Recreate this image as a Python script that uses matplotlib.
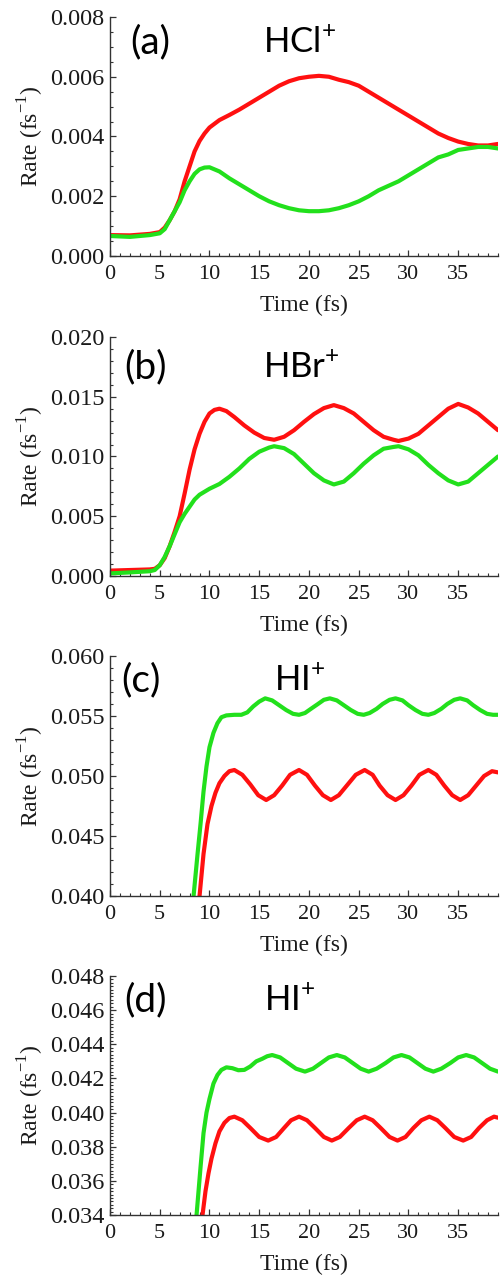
"""Ionization rate vs time for HCl+, HBr+ and HI+ (four stacked panels)."""

import matplotlib

matplotlib.use("Agg")

import matplotlib.pyplot as plt
from matplotlib.ticker import MultipleLocator, FormatStrFormatter

RED = "#ff1010"
GREEN = "#22e01c"

# ---- panel (a) HCl+ ----
a_red_t = [0, 2, 4, 5, 5.5, 6, 6.5, 7, 7.5, 8, 8.5, 9, 9.5, 10, 11, 12, 13, 14, 15, 16, 17, 18, 19,
           20, 21, 22, 23, 24, 25, 26, 27, 28, 29, 30, 31, 32, 33, 34, 35, 36, 37, 38, 39]
a_red_v = [0.0007, 0.00069, 0.00074, 0.0008, 0.00095, 0.0012, 0.0015, 0.0019, 0.0025, 0.003, 0.0035,
           0.00385, 0.0041, 0.0043, 0.00455, 0.00472, 0.0049, 0.0051, 0.0053, 0.0055, 0.0057, 0.00585,
           0.00595, 0.006, 0.00603, 0.006, 0.0059, 0.00582, 0.0057, 0.0055, 0.0053, 0.0051, 0.0049,
           0.0047, 0.0045, 0.0043, 0.0041, 0.00395, 0.00383, 0.00375, 0.0037, 0.0037, 0.00375]
a_green_t = [0, 2, 4, 5, 5.5, 6, 6.5, 7, 7.5, 8, 8.5, 9, 9.5, 10, 10.5, 11, 12, 13, 14, 15, 16, 17,
             18, 19, 20, 21, 22, 23, 24, 25, 26, 27, 28, 29, 30, 31, 32, 33, 34, 35, 36, 37, 38, 39]
a_green_v = [0.00067, 0.00064, 0.0007, 0.00076, 0.0009, 0.0012, 0.0015, 0.0018, 0.0022, 0.0025,
             0.00275, 0.0029, 0.00296, 0.00297, 0.0029, 0.00283, 0.0026, 0.0024, 0.0022, 0.002,
             0.00183, 0.0017, 0.0016, 0.00153, 0.0015, 0.0015, 0.00153, 0.0016, 0.0017, 0.00183,
             0.002, 0.0022, 0.00235, 0.0025, 0.0027, 0.0029, 0.0031, 0.0033, 0.0034, 0.00355,
             0.0036, 0.00365, 0.00365, 0.0036]

# ---- panel (b) HBr+ ----
b_red_t = [0, 2, 4, 4.5, 5, 5.5, 6, 6.5, 7, 7.5, 8, 8.5, 9, 9.5, 10, 10.5, 11, 11.7, 12.5, 13.5,
           14.5, 15.5, 16.5, 17.5, 18.5, 19.5, 20.5, 21.5, 22.5, 23.5, 24.5, 25.5, 26.5, 27.5,
           28.5, 29, 30, 31, 32, 33, 34, 35, 36, 37, 38, 39]
b_red_v = [0.00045, 0.0005, 0.00055, 0.0006, 0.0009, 0.0015, 0.0025, 0.0037, 0.005, 0.0069, 0.0089,
           0.0106, 0.0119, 0.0129, 0.0136, 0.0139, 0.014, 0.0138, 0.0133, 0.0126, 0.012, 0.01155,
           0.0114, 0.01165, 0.0122, 0.0129, 0.01355, 0.01405, 0.0143, 0.01405, 0.0136, 0.0129,
           0.0122, 0.01165, 0.0114, 0.0113, 0.0115, 0.0119, 0.0126, 0.0133, 0.014, 0.0144,
           0.0141, 0.0136, 0.0129, 0.0122]
b_green_t = [0, 2, 4, 4.5, 5, 5.5, 6, 6.5, 7, 7.5, 8, 8.5, 9, 10, 11, 12, 13, 14, 15, 16, 16.5,
             17.5, 18.5, 19.5, 20.5, 21.5, 22.5, 23.5, 24.5, 25.5, 26.5, 27.5, 28.5, 29, 30, 31,
             32, 33, 34, 35, 36, 37, 38, 39]
b_green_v = [0.00022, 0.0003, 0.0004, 0.0005, 0.0009, 0.0016, 0.0025, 0.0035, 0.0045, 0.0052,
             0.0058, 0.0064, 0.0068, 0.0073, 0.0077, 0.0083, 0.009, 0.0098, 0.0104, 0.01075,
             0.01086, 0.0107, 0.0102, 0.0094, 0.0086, 0.008, 0.00766, 0.0079, 0.0086, 0.0094,
             0.0101, 0.01065, 0.0108, 0.01086, 0.0106, 0.0101, 0.0093, 0.0086, 0.008, 0.00766,
             0.0079, 0.0086, 0.0093, 0.01]

# ---- panel (c) HI+ ----
c_green_t = [8.0, 8.4, 8.8, 9.1, 9.4, 9.7, 10.0, 10.4, 10.8, 11.2, 11.7, 12.5, 13.2, 13.8, 14.4,
             15.0, 15.6, 16.3, 17.0, 17.7, 18.4, 19.0, 19.6, 20.2, 20.9, 21.5, 22.1, 22.8, 23.5,
             24.2, 24.9, 25.5, 26.1, 26.8, 27.4, 28.1, 28.7, 29.4, 30.0, 30.7, 31.4, 32.0, 32.6,
             33.3, 33.9, 34.6, 35.2, 35.9, 36.5, 37.2, 37.9, 38.5, 39.0]
c_green_v = [0.037, 0.040, 0.0435, 0.046, 0.0487, 0.0508, 0.0524, 0.0536, 0.0544, 0.0549, 0.05505,
             0.0551, 0.0551, 0.0553, 0.0558, 0.0562, 0.05647, 0.0563, 0.0559, 0.0555, 0.05518,
             0.0551, 0.05525, 0.0556, 0.056, 0.05635, 0.05647, 0.0563, 0.0559, 0.0555, 0.05518,
             0.0551, 0.05525, 0.0556, 0.056, 0.05635, 0.05647, 0.0563, 0.0559, 0.0555, 0.05518,
             0.0551, 0.05525, 0.0556, 0.056, 0.05635, 0.05647, 0.0563, 0.0559, 0.0555, 0.05518,
             0.0551, 0.0551]
c_red_t = [8.6, 9.0, 9.4, 9.8, 10.2, 10.6, 11.0, 11.5, 12.0, 12.5, 13.3, 14.1, 14.9, 15.7, 16.5,
           17.3, 18.1, 19.0, 19.8, 20.6, 21.4, 22.2, 23.0, 23.9, 24.7, 25.6, 26.4, 27.1, 27.9,
           28.7, 29.5, 30.3, 31.1, 32.0, 32.8, 33.6, 34.4, 35.2, 36.0, 36.8, 37.6, 38.4, 39.0]
c_red_v = [0.037, 0.040, 0.0435, 0.046, 0.0475, 0.0486, 0.0494, 0.05, 0.0504, 0.0505, 0.0501,
           0.0493, 0.0484, 0.048, 0.0484, 0.0492, 0.0501, 0.0505, 0.0501, 0.0492, 0.0484, 0.048,
           0.0484, 0.0493, 0.0501, 0.0505, 0.0501, 0.0492, 0.0484, 0.048, 0.0484, 0.0492, 0.0501,
           0.0505, 0.0501, 0.0492, 0.0484, 0.048, 0.0484, 0.0492, 0.05, 0.0504, 0.0503]

# ---- panel (d) HI+ ----
d_green_t = [8.3, 8.7, 9.1, 9.4, 9.7, 10.0, 10.4, 10.8, 11.2, 11.7, 12.3, 12.9, 13.5, 14.1, 14.7,
             15.3, 15.8, 16.3, 17.1, 17.9, 18.7, 19.6, 20.4, 21.2, 22.0, 22.8, 23.6, 24.4, 25.2,
             26.0, 26.8, 27.7, 28.5, 29.3, 30.1, 30.9, 31.7, 32.5, 33.3, 34.2, 35.0, 35.8, 36.6,
             37.4, 38.2, 39.0]
d_green_v = [0.031, 0.034, 0.0368, 0.0388, 0.04, 0.0408, 0.0417, 0.0422, 0.0425, 0.04265, 0.0426,
             0.04248, 0.0425, 0.0427, 0.043, 0.04315, 0.0433, 0.04337, 0.04323, 0.0429, 0.04257,
             0.0424, 0.04257, 0.0429, 0.04323, 0.04337, 0.04323, 0.0429, 0.04257, 0.0424, 0.04257,
             0.0429, 0.04323, 0.04337, 0.04323, 0.0429, 0.04257, 0.0424, 0.04257, 0.0429,
             0.04323, 0.04337, 0.04323, 0.0429, 0.04257, 0.0424]
d_red_t = [8.9, 9.3, 9.6, 9.9, 10.2, 10.6, 11.0, 11.5, 12.0, 12.5, 13.3, 14.1, 15.0, 15.9, 16.7,
           17.5, 18.2, 19.0, 19.8, 20.6, 21.5, 22.3, 23.1, 24.0, 24.8, 25.6, 26.4, 27.2, 28.1,
           28.9, 29.7, 30.5, 31.3, 32.1, 32.9, 33.7, 34.6, 35.5, 36.3, 37.1, 37.9, 38.6, 39.0]
d_red_v = [0.031, 0.034, 0.0354, 0.03644, 0.0373, 0.0382, 0.0389, 0.0394, 0.03968, 0.03976,
           0.03955, 0.0391, 0.03857, 0.03836, 0.03857, 0.0391, 0.03955, 0.03976, 0.03955, 0.0391,
           0.03857, 0.03836, 0.03857, 0.0391, 0.03955, 0.03976, 0.03955, 0.0391, 0.03857,
           0.03836, 0.03857, 0.0391, 0.03955, 0.03976, 0.03955, 0.0391, 0.03857, 0.03836,
           0.03857, 0.0391, 0.03955, 0.03976, 0.0397]

panel_tags = ["(a)", "(b)", "(c)", "(d)"]
species = ["HCl", "HBr", "HI", "HI"]
y_limits = [(0.0, 0.008), (0.0, 0.020), (0.040, 0.060), (0.034, 0.048)]
y_major = [0.002, 0.005, 0.005, 0.002]
y_minor = [0.0005, 0.001, 0.001, 0.0002]

# layout in figure pixels (500 x 1279)
W, H = 500, 1279
AX_LEFT, AX_RIGHT = 110, 498
AX_TOPS = [17, 337, 656, 976]
AX_BOTTOMS = [256, 576, 896, 1215]
TAG_POS = [(150, 42), (146, 367), (141, 680), (146, 1000)]
NAME_POS = [(300, 42), (301, 367), (300, 680), (290, 1000)]

SERIF = ["Liberation Serif", "DejaVu Serif"]
SANS = ["Lato", "DejaVu Sans"]
INK = "#1a1a1a"

fig = plt.figure(figsize=(W / 100, H / 100), dpi=100)

series = [
    ((a_red_t, a_red_v), (a_green_t, a_green_v)),
    ((b_red_t, b_red_v), (b_green_t, b_green_v)),
    ((c_red_t, c_red_v), (c_green_t, c_green_v)),
    ((d_red_t, d_red_v), (d_green_t, d_green_v)),
]

for i, ((rt, rv), (gt, gv)) in enumerate(series):
    top, bot = AX_TOPS[i], AX_BOTTOMS[i]
    ax = fig.add_axes([AX_LEFT / W, 1 - bot / H, (AX_RIGHT - AX_LEFT) / W, (bot - top) / H])
    ax.plot(rt, rv, color=RED, lw=3.0, solid_joinstyle="round", solid_capstyle="round")
    ax.plot(gt, gv, color=GREEN, lw=3.0, solid_joinstyle="round", solid_capstyle="round")

    ax.set_xlim(0, 39)
    ax.set_ylim(*y_limits[i])
    ax.xaxis.set_major_locator(MultipleLocator(5))
    ax.xaxis.set_minor_locator(MultipleLocator(1))
    ax.yaxis.set_major_locator(MultipleLocator(y_major[i]))
    ax.yaxis.set_minor_locator(MultipleLocator(y_minor[i]))
    ax.yaxis.set_major_formatter(FormatStrFormatter("%.3f"))

    for side in ("top", "right"):
        ax.spines[side].set_visible(False)
    for side in ("left", "bottom"):
        ax.spines[side].set_color("#333333")
        ax.spines[side].set_linewidth(1.0)

    ax.tick_params(which="major", direction="in", length=4, width=0.9, color="#333333")
    ax.tick_params(which="minor", direction="in", length=2, width=0.8, color="#333333")
    ax.tick_params(axis="x", which="major", pad=6.5)
    ax.tick_params(axis="y", which="major", pad=4)
    for lab in ax.get_xticklabels():
        lab.set_family(SERIF)
        lab.set_fontsize(16)
        lab.set_color(INK)
    for lab in ax.get_yticklabels():
        lab.set_family(SERIF)
        lab.set_fontsize(17.5)
        lab.set_color(INK)

    ax.set_xlabel("Time (fs)", family=SERIF, fontsize=17, labelpad=8, color=INK)
    ax.set_ylabel("Rate (fs$^{\\mathregular{-1}}$)", family=SERIF, fontsize=17, labelpad=3,
                  color=INK)

    tx, ty = TAG_POS[i]
    fig.text(tx / W, 1 - ty / H, panel_tags[i], family=SANS, fontsize=28, ha="center",
             va="center")
    nx, ny = NAME_POS[i]
    fig.text(nx / W, 1 - ny / H, species[i] + "$^{\\mathregular{+}}$", family=SANS, fontsize=25,
             ha="center", va="center")

fig.savefig("out.png", dpi=100)
plt.close(fig)
